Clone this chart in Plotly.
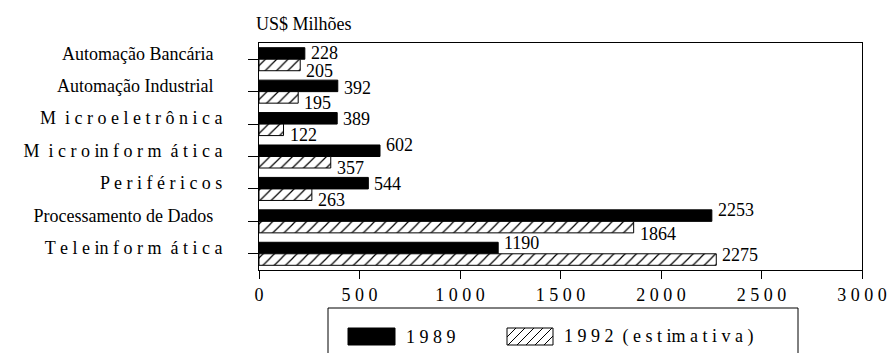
import plotly.graph_objects as go

# --- data -------------------------------------------------------------
categories = [
    "Automação Bancária",
    "Automação Industrial",
    "Microeletrônica",
    "Microinformática",
    "Periféricos",
    "Processamento de Dados",
    "Teleinformática",
]
category_labels = [
    "Automação Bancária\u2002",
    "Automação Industrial\u2002",
    "M\u2002i c r o e l e t r ô n i c a",
    "M\u2002i c r o in f o r m\u2002á t i c a",
    "P e r i f é r i c o s",
    "Processamento de Dados\u2002",
    "T e l e in f o r m\u2002á t i c a",
]
values_1989 = [228, 392, 389, 602, 544, 2253, 1190]
values_1992 = [205, 195, 122, 357, 263, 1864, 2275]
series_names = ["1 9 8 9", "1 9 9 2\u2002( e s t im a t i v a )"]
x_ticks = [0, 500, 1000, 1500, 2000, 2500, 3000]
x_tick_labels = ["0", "5 0 0", "1 0 0 0", "1 5 0 0", "2 0 0 0", "2 5 0 0", "3 0 0 0"]
unit_label = "US$ Milhões"

# --- styling ----------------------------------------------------------
FONT = "Liberation Serif, Times New Roman, serif"
FS = 18
W, H = 888, 353
ML, MR, MT, MB = 259, 26, 43, 83

# vertical nudges (px) for the value labels of each series
nudge_1989 = [6, 4, 5, 12, 5, 11, 11]
nudge_1992 = [-12, -11, -11, -11, -11, -13, -1]


def px(x):
    """page x pixel -> paper coordinate"""
    return (x - ML) / (W - ML - MR)


def py(y):
    """page y pixel -> paper coordinate"""
    return (H - MB - y) / (H - MT - MB)


fig = go.Figure()
fig.add_trace(go.Bar(
    y=categories, x=values_1989, orientation="h", name=series_names[0],
    marker=dict(color="black", line=dict(color="black", width=1)),
    showlegend=False,
))
fig.add_trace(go.Bar(
    y=categories, x=values_1992, orientation="h", name=series_names[1],
    marker=dict(
        color="white",
        line=dict(color="black", width=1),
        pattern=dict(shape="/", fgcolor="black", bgcolor="white",
                     size=8, solidity=0.15, fillmode="replace"),
    ),
    showlegend=False,
))

label_font = dict(family=FONT, size=FS, color="black")
annotations = []
for cat, v, dy in zip(categories, values_1989, nudge_1989):
    annotations.append(dict(x=v, y=cat, xref="x", yref="y", text=str(v),
                            showarrow=False, xanchor="left", yanchor="middle",
                            xshift=4, yshift=dy, font=label_font))
for cat, v, dy in zip(categories, values_1992, nudge_1992):
    annotations.append(dict(x=v, y=cat, xref="x", yref="y", text=str(v),
                            showarrow=False, xanchor="left", yanchor="middle",
                            xshift=4, yshift=dy, font=label_font))

annotations.append(dict(x=0, y=1, xref="paper", yref="paper", text=unit_label,
                        showarrow=False, xanchor="left", yanchor="bottom",
                        xshift=-5, yshift=7, font=label_font))

# --- legend (drawn by hand for wide swatches) ----------------------------
shapes = []
box = dict(x0=328, x1=798, y0=308, y1=375)
shapes.append(dict(type="rect", xref="paper", yref="paper",
                   x0=px(box["x0"]), x1=px(box["x1"]),
                   y0=py(box["y1"]), y1=py(box["y0"]),
                   line=dict(color="black", width=1), fillcolor="white"))
sw1 = (348, 395, 328, 345)
shapes.append(dict(type="rect", xref="paper", yref="paper",
                   x0=px(sw1[0]), x1=px(sw1[1]), y0=py(sw1[3]), y1=py(sw1[2]),
                   line=dict(color="black", width=1), fillcolor="black"))
sw2 = (507, 553, 328, 345)
shapes.append(dict(type="rect", xref="paper", yref="paper",
                   x0=px(sw2[0]), x1=px(sw2[1]), y0=py(sw2[3]), y1=py(sw2[2]),
                   line=dict(color="black", width=1), fillcolor="white"))
# diagonal hatching inside the second swatch
x0, x1, ytop, ybot = sw2
hgt = ybot - ytop
step = 9
segs = []
start = x0 - hgt
while start < x1:
    # line from (start, ybot) to (start + hgt, ytop), clipped to the swatch
    ax, ay = start, ybot
    bx, by = start + hgt, ytop
    if ax < x0:
        ay = ybot - (x0 - ax)
        ax = x0
    if bx > x1:
        by = ytop + (bx - x1)
        bx = x1
    if bx > ax:
        segs.append(f"M{px(ax)},{py(ay)} L{px(bx)},{py(by)}")
    start += step
shapes.append(dict(type="path", xref="paper", yref="paper", path=" ".join(segs),
                   line=dict(color="black", width=1)))

annotations.append(dict(x=px(404), y=py(336.5), xref="paper", yref="paper",
                        text=series_names[0], showarrow=False, xanchor="left",
                        yanchor="middle", font=label_font))
annotations.append(dict(x=px(562), y=py(336.5), xref="paper", yref="paper",
                        text=series_names[1], showarrow=False, xanchor="left",
                        yanchor="middle", font=label_font))

fig.update_layout(
    width=W, height=H,
    margin=dict(l=ML, r=MR, t=MT, b=MB, pad=0, autoexpand=False),
    paper_bgcolor="white", plot_bgcolor="white",
    barmode="group", bargap=0.29, bargroupgap=0,
    font=dict(family=FONT, size=FS, color="black"),
    annotations=annotations,
    shapes=shapes,
    showlegend=False,
)
fig.update_xaxes(
    range=[0, 3000], tickvals=x_ticks, ticktext=x_tick_labels,
    automargin=False,
    ticks="outside", ticklen=8, tickcolor="black", tickwidth=1,
    showline=True, linecolor="black", linewidth=1, mirror=True,
    showgrid=False, zeroline=False,
    tickfont=dict(family=FONT, size=FS, color="black"),
)
fig.update_yaxes(
    type="category", categoryorder="array", categoryarray=categories,
    tickvals=categories, ticktext=category_labels,
    range=[len(categories) - 0.5, -0.5], automargin=False,
    ticks="outside", ticklen=10, tickcolor="black", tickwidth=1,
    ticklabelstandoff=22, ticklabelshift=6,
    showline=True, linecolor="black", linewidth=1, mirror=True,
    showgrid=False, zeroline=False,
    tickfont=dict(family=FONT, size=FS, color="black"),
)

fig.write_html("out.html")
